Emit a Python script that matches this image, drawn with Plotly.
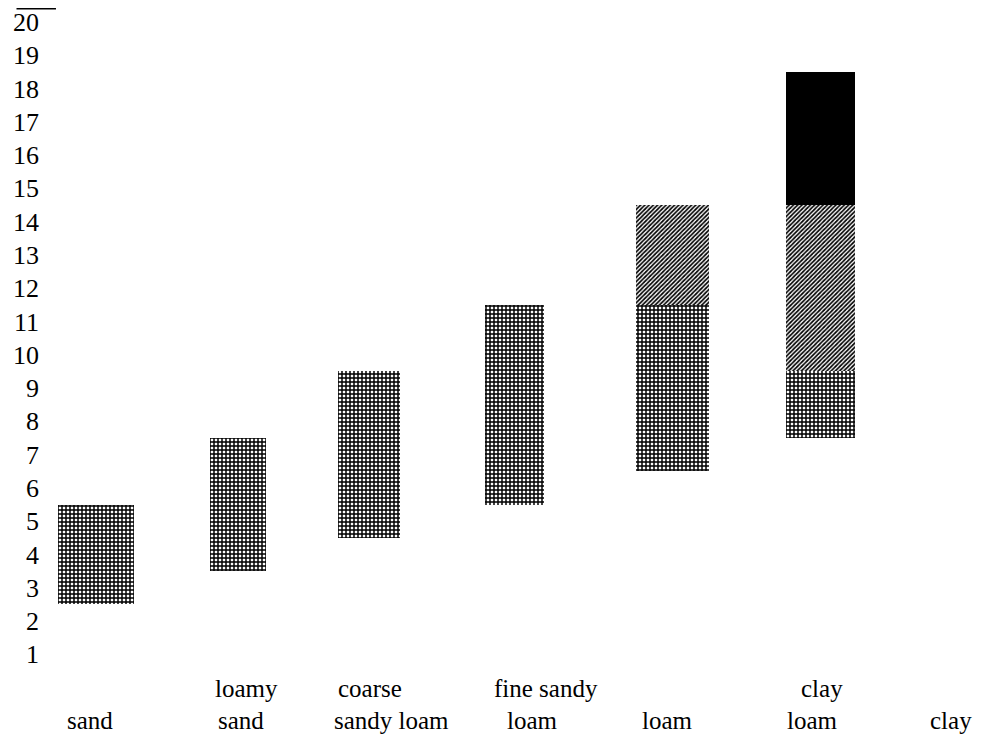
import plotly.graph_objects as go

# ---- data ----
categories = ["sand", "loamy sand", "coarse sandy loam", "fine sandy loam", "loam", "clay loam", "clay"]
label_top = ["", "loamy", "coarse", "fine sandy", "", "clay", ""]
label_bottom = ["sand", "sand", "sandy loam", "loam", "loam", "loam", "clay"]

grid_low = [2.5, 3.5, 4.5, 5.5, 6.5, 7.5, None]
grid_high = [5.5, 7.5, 9.5, 11.5, 11.5, 9.5, None]
diag_low = [None, None, None, None, 11.5, 9.5, None]
diag_high = [None, None, None, None, 14.5, 14.5, None]
solid_low = [None, None, None, None, None, 14.5, None]
solid_high = [None, None, None, None, None, 18.5, None]

y_ticks = list(range(1, 21))

# ---- styles ----
bar_widths = [0.525, 0.387, 0.428, 0.407, 0.504, 0.477, 0.45]
bar_nudge = [0.045, 0.024, -0.069, -0.069, 0.024, 0.045, 0.0]
bar_offsets = [n - w / 2 for n, w in zip(bar_nudge, bar_widths)]
top_shift = [0, 12, -9, 22, 0, 8, 0]
bottom_shift = [0, 7, 12, 8, -1, -1, -8]
FONT = "Liberation Serif, Times New Roman, serif"
FS = 25


def seg(lo, hi):
    return [None if (a is None or b is None) else b - a for a, b in zip(lo, hi)]


fig = go.Figure()
fig.add_trace(go.Bar(
    x=categories, y=seg(grid_low, grid_high), base=grid_low, width=bar_widths, offset=bar_offsets,
    marker=dict(color="white", line=dict(width=0),
                pattern=dict(shape="+", fgcolor="#000000", bgcolor="#ffffff", fgopacity=1,
                             fillmode="replace", size=4, solidity=0.6)),
    showlegend=False, hoverinfo="skip"))
fig.add_trace(go.Bar(
    x=categories, y=seg(diag_low, diag_high), base=diag_low, width=bar_widths, offset=bar_offsets,
    marker=dict(color="white", line=dict(width=0),
                pattern=dict(shape="/", fgcolor="#000000", bgcolor="#ffffff", fgopacity=1,
                             fillmode="replace", size=3, solidity=0.55)),
    showlegend=False, hoverinfo="skip"))
fig.add_trace(go.Bar(
    x=categories, y=seg(solid_low, solid_high), base=solid_low, width=bar_widths, offset=bar_offsets,
    marker=dict(color="black", line=dict(width=0)),
    showlegend=False, hoverinfo="skip"))

for i, c in enumerate(categories):
    if label_top[i]:
        fig.add_annotation(x=c, xref="x", y=0, yref="paper", yanchor="middle",
                           text=label_top[i], showarrow=False, yshift=-17.4, xshift=top_shift[i],
                           font=dict(family=FONT, size=FS, color="black"))
    fig.add_annotation(x=c, xref="x", y=0, yref="paper", yanchor="middle",
                       text=label_bottom[i], showarrow=False, yshift=-49.4, xshift=bottom_shift[i],
                       font=dict(family=FONT, size=FS, color="black"))

fig.add_shape(type="line", xref="paper", yref="paper", x0=-0.025, x1=0.017, y0=0.999, y1=0.999,
              line=dict(color="black", width=1.5))

fig.update_layout(
    width=974, height=726,
    margin=dict(l=32, r=2, t=0, b=63.4),
    paper_bgcolor="white", plot_bgcolor="white",
    barmode="overlay", bargap=0,
    font=dict(family=FONT, size=FS, color="black"),
    xaxis=dict(type="category", range=[-0.343, 6.148], showticklabels=False,
               showgrid=False, zeroline=False, showline=False, ticks=""),
    yaxis=dict(range=[0.5, 20.42], tickvals=y_ticks, ticktext=[str(v) for v in y_ticks],
               showgrid=False, zeroline=False, showline=False, ticks="",
               tickfont=dict(family=FONT, size=26, color="black")),
)

fig.write_html("out.html")
